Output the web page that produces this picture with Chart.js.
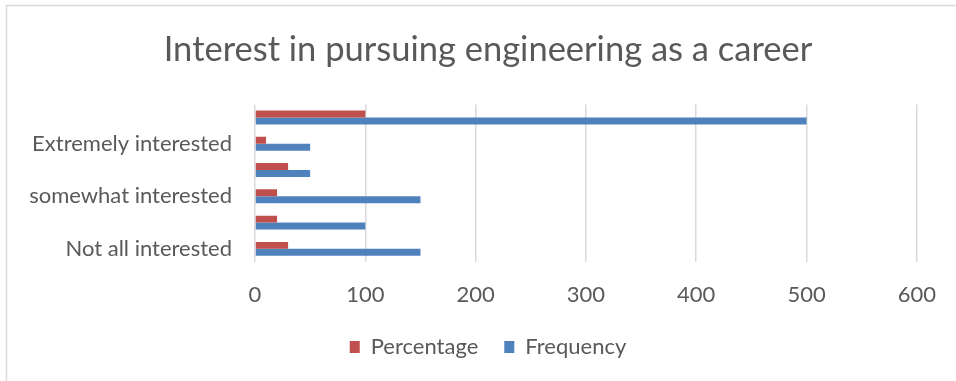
<!DOCTYPE html>
<html>
<head>
<meta charset="utf-8">
<script src="https://cdn.jsdelivr.net/npm/chart.js@4/dist/chart.umd.min.js"></script>
<style>
  html, body { margin: 0; padding: 0; background: #ffffff; }
  #wrap { width: 956px; height: 381px; position: relative; }
</style>
</head>
<body>
<div id="wrap"><canvas id="chart" width="956" height="381"></canvas></div>
<script>
// Survey responses, listed top to bottom as drawn on the category axis
const categories = ["", "Extremely interested", "", "somewhat interested", "", "Not all interested"];
const percentage = [100, 10, 30, 20, 20, 30];
const frequency  = [500, 50, 50, 150, 100, 150];
const xTicks = [0, 100, 200, 300, 400, 500, 600];

const TEXT = "#595959";
const FONT = "Lato";
const PAD_LEFT = 20;
const PLOT_LEFT = 255;
const RIGHT_GAP = 33;

// light frame around the chart object
const framePlugin = {
  id: "frame",
  beforeDraw(chart) {
    const ctx = chart.ctx;
    ctx.save();
    ctx.fillStyle = "#ffffff";
    ctx.fillRect(0, 0, chart.width, chart.height);
    ctx.strokeStyle = "#D9D9D9";
    ctx.lineWidth = 1.5;
    ctx.strokeRect(6.5, 5.5, chart.width + 50, chart.height + 50);
    ctx.restore();
  }
};

new Chart(document.getElementById("chart"), {
  type: "bar",
  data: {
    labels: categories,
    datasets: [
      { label: "Percentage", data: percentage, backgroundColor: "#C0504D" },
      { label: "Frequency",  data: frequency,  backgroundColor: "#4F81BD" }
    ]
  },
  options: {
    indexAxis: "y",
    responsive: false,
    animation: false,
    devicePixelRatio: 1,
    datasets: { bar: { categoryPercentage: 0.53, barPercentage: 1.0 } },
    layout: { padding: { left: PAD_LEFT, right: 0, top: 0, bottom: 13 } },
    scales: {
      x: {
        min: xTicks[0],
        max: xTicks[xTicks.length - 1],
        afterBuildTicks(scale) { scale.ticks = xTicks.map(v => ({ value: v })); },
        afterFit(scale) { scale.height = 48; },
        grid: { color: "#D9D9D9", lineWidth: 1.5, drawTicks: false },
        border: { display: false },
        ticks: { color: TEXT, padding: 20, font: { family: FONT, size: 22 } }
      },
      y: {
        afterFit(scale) { scale.width = PLOT_LEFT - PAD_LEFT; },
        grid: { display: false },
        border: { display: false },
        ticks: { color: TEXT, padding: 15, autoSkip: false, font: { family: FONT, size: 22 } }
      },
      // empty margin to the right of the plot
      yRight: {
        type: "category",
        position: "right",
        afterFit(scale) { scale.width = RIGHT_GAP; },
        grid: { display: false },
        border: { display: false },
        ticks: { display: false }
      }
    },
    plugins: {
      title: {
        display: true,
        text: "Interest in pursuing engineering as a career",
        color: TEXT,
        font: { family: FONT, size: 34.5, weight: "400" },
        padding: { top: 29, bottom: 34 }
      },
      legend: {
        position: "bottom",
        labels: {
          color: TEXT,
          boxWidth: 10,
          boxHeight: 12,
          padding: 26,
          font: { family: FONT, size: 22 }
        }
      },
      tooltip: { enabled: false }
    }
  },
  plugins: [framePlugin]
});
</script>
</body>
</html>
